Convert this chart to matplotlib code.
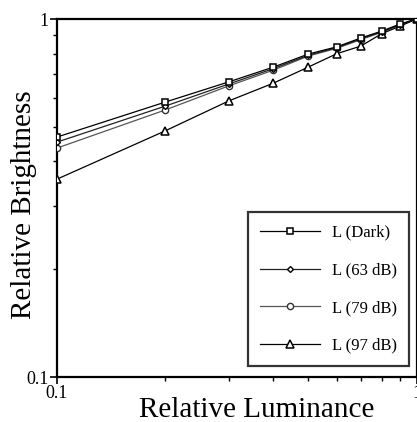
import matplotlib
matplotlib.use("Agg")
import matplotlib.pyplot as plt
from matplotlib.ticker import FixedLocator, NullFormatter, FixedFormatter

plt.rcParams['font.family'] = ['Liberation Serif', 'DejaVu Serif']

luminance = [0.1, 0.2, 0.3, 0.4, 0.5, 0.6, 0.7, 0.8, 0.9, 1.0]
dark  = [0.468, 0.586, 0.667, 0.734, 0.798, 0.836, 0.885, 0.925, 0.968, 1.0]
db63  = [0.453, 0.571, 0.658, 0.727, 0.792, 0.832, 0.880, 0.921, 0.965, 1.0]
db79  = [0.436, 0.557, 0.650, 0.720, 0.788, 0.828, 0.876, 0.918, 0.962, 1.0]
db97  = [0.357, 0.487, 0.590, 0.662, 0.734, 0.800, 0.840, 0.910, 0.955, 1.0]
labels = ["L (Dark)", "L (63 dB)", "L (79 dB)", "L (97 dB)"]

fig = plt.figure(figsize=(4.17, 4.22), dpi=100)
ax = fig.add_axes([57/417, 1-377/422, (416.5-57)/417, (377-19)/422])

lw = 0.9
ax.plot(luminance, dark, '-', color='black', lw=lw, marker='s', ms=5,
        mfc='white', mec='black', mew=1.1, label=labels[0], zorder=5)
ax.plot(luminance, db63, '-', color='#222222', lw=lw, marker='D', ms=3,
        mfc='white', mec='black', mew=1.0, label=labels[1], zorder=4)
ax.plot(luminance, db79, '-', color='#555555', lw=lw, marker='o', ms=4.5,
        mfc='white', mec='#333333', mew=1.0, label=labels[2], zorder=3)
ax.plot(luminance, db97, '-', color='black', lw=lw, marker='^', ms=5.5,
        mfc='white', mec='black', mew=1.1, label=labels[3], zorder=3)

ax.set_xscale('log')
ax.set_yscale('log')
ax.set_xlim(0.1, 1.0)
ax.set_ylim(0.1, 1.0)

ax.xaxis.set_major_locator(FixedLocator([0.1, 1.0]))
ax.xaxis.set_major_formatter(FixedFormatter(['0.1', '1']))
ax.yaxis.set_major_locator(FixedLocator([0.1, 1.0]))
ax.yaxis.set_major_formatter(FixedFormatter(['0.1', '1']))
ax.xaxis.set_minor_locator(FixedLocator([0.2, 0.3, 0.4, 0.5, 0.6, 0.7, 0.8, 0.9]))
ax.yaxis.set_minor_locator(FixedLocator([0.2, 0.3, 0.4, 0.5, 0.6, 0.7, 0.8, 0.9]))
ax.xaxis.set_minor_formatter(NullFormatter())
ax.yaxis.set_minor_formatter(NullFormatter())

ax.tick_params(which='major', direction='out', length=5, width=1.2, labelsize=13, pad=1)
ax.tick_params(which='minor', direction='out', length=3, width=1.0)

for s in ax.spines.values():
    s.set_linewidth(1.6)

fig.text(257/417, 1-417/422, 'Relative Luminance', fontsize=21,
         ha='center', va='baseline')
fig.text(24/417, 1-205/422, 'Relative Brightness', fontsize=21,
         ha='center', va='center', rotation=90)

leg = ax.legend(loc='lower right', bbox_to_anchor=(0.98, 0.03), fontsize=12,
                frameon=True, fancybox=False, edgecolor='black',
                handlelength=3.6, labelspacing=1.3, borderpad=0.75,
                handletextpad=0.7, borderaxespad=0)
leg.get_frame().set_linewidth(1.6)

fig.savefig('out.png', dpi=100)
